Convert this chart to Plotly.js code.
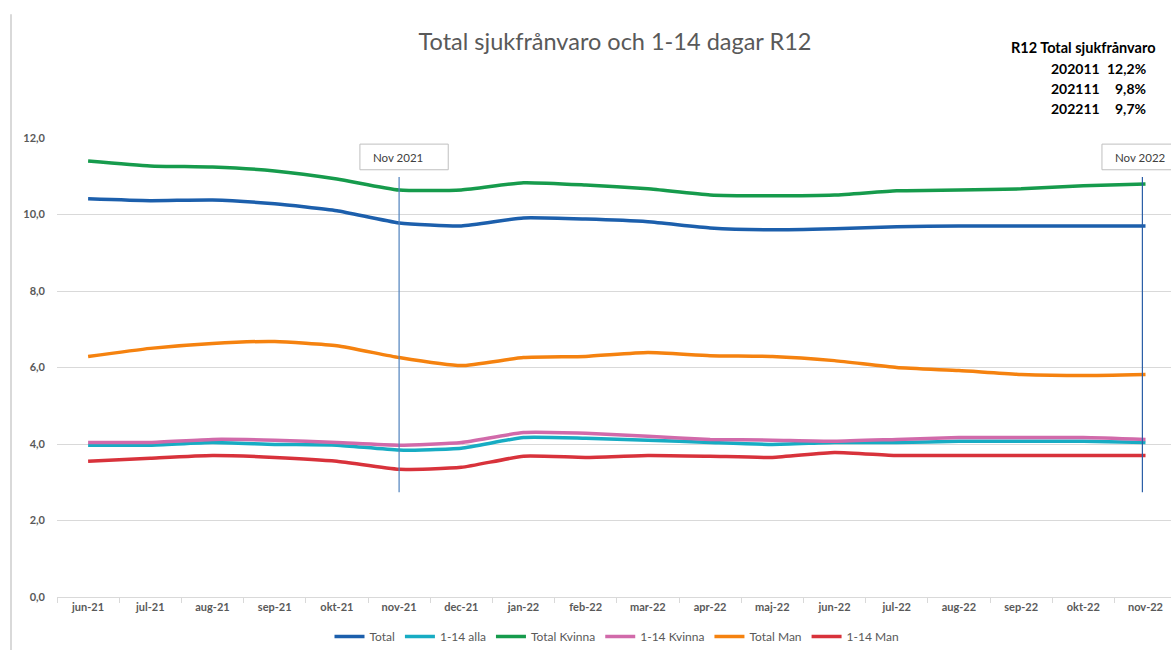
<!DOCTYPE html>
<html>
<head>
<meta charset="utf-8">
<script src="https://cdn.plot.ly/plotly-3.0.1.min.js"></script>
<style>html,body{margin:0;padding:0;background:#fff;}#chart{width:1171px;height:651px;}</style>
</head>
<body>
<div id="chart"></div>
<script>
const months = ["jun-21","jul-21","aug-21","sep-21","okt-21","nov-21","dec-21","jan-22","feb-22","mar-22","apr-22","maj-22","jun-22","jul-22","aug-22","sep-22","okt-22","nov-22"];

const seriesNames = ["Total","1-14 alla","Total Kvinna","1-14 Kvinna","Total Man","1-14 Man"];

const total       = [10.41,10.36,10.38,10.28,10.10,9.78,9.70,9.91,9.88,9.81,9.65,9.60,9.63,9.68,9.70,9.70,9.70,9.70];
const alla114     = [3.97,3.97,4.04,3.99,3.97,3.84,3.89,4.17,4.15,4.10,4.04,3.99,4.04,4.04,4.07,4.07,4.07,4.04];
const totalKvinna = [11.40,11.27,11.24,11.14,10.93,10.64,10.64,10.83,10.77,10.67,10.51,10.49,10.51,10.62,10.64,10.67,10.75,10.80];
const kvinna114   = [4.04,4.04,4.12,4.10,4.04,3.97,4.04,4.30,4.28,4.20,4.12,4.10,4.07,4.12,4.17,4.17,4.17,4.12];
const totalMan    = [6.29,6.50,6.63,6.68,6.57,6.26,6.05,6.26,6.29,6.39,6.31,6.29,6.18,6.00,5.92,5.82,5.79,5.82];
const man114      = [3.55,3.63,3.70,3.65,3.55,3.34,3.39,3.68,3.65,3.70,3.68,3.65,3.78,3.70,3.70,3.70,3.70,3.70];

const colors = ["#1c5fac","#17acc3","#169b4c","#d16aaa","#f5820f","#d8323b"];

const chartTitle = "Total sjukfrånvaro och 1-14 dagar R12";
const markerLabels = ["Nov 2021","Nov 2022"];
const summaryTitle = "R12 Total sjukfrånvaro";
const summaryPeriods = ["202011","202111","202211"];
const summaryValues = ["12,2%","9,8%","9,7%"];

const seriesData = [total, alla114, totalKvinna, kvinna114, totalMan, man114];

const font = "Lato, 'Open Sans', sans-serif";
const gray = "#595959";

const traces = seriesData.map((vals, i) => ({
  type: "scatter",
  mode: "lines",
  x: months,
  y: vals,
  name: seriesNames[i],
  line: {color: colors[i], width: 3.5, shape: "spline", smoothing: 0.5}
}));

const annotations = [];
annotations.push({xref:"paper", yref:"paper", x:(1157-57)/1114, y:(598-47)/460, xanchor:"right", yanchor:"middle",
  text:"<b>"+summaryTitle+"</b>", showarrow:false, font:{family:font, size:14.5, color:"#000"}});
summaryPeriods.forEach((p,i)=>{
  const py = 68 + i*20;
  annotations.push({xref:"paper", yref:"paper", x:(1102-57)/1114, y:(598-py)/460, xanchor:"right", yanchor:"middle",
    text:"<b>"+p+"</b>", showarrow:false, font:{family:font, size:14, color:"#000"}});
  annotations.push({xref:"paper", yref:"paper", x:(1148-57)/1114, y:(598-py)/460, xanchor:"right", yanchor:"middle",
    text:"<b>"+summaryValues[i]+"</b>", showarrow:false, font:{family:font, size:14, color:"#000"}});
});
const markerCat = [5, 17];
const labelStart = [4.55, 16.48];
markerLabels.forEach((t,i)=>{
  annotations.push({xref:"x", yref:"y", x:labelStart[i], y:11.5, xanchor:"left", yanchor:"middle",
    text:t, showarrow:false, font:{family:font, size:11.5, color:"#404040"}});
});

const shapes = [
  {type:"line", xref:"paper", yref:"paper", x0:-46/1114, x1:-46/1114, y0:(598-14)/460, y1:(598-651)/460,
   line:{color:"#d9d9d9", width:2}},
  {type:"rect", xref:"x", yref:"y", x0:4.37, x1:5.79, y0:11.17, y1:11.84, line:{color:"#bfbfbf", width:1}, fillcolor:"#fff"},
  {type:"rect", xref:"x", yref:"y", x0:16.30, x1:17.72, y0:11.17, y1:11.84, line:{color:"#bfbfbf", width:1}, fillcolor:"#fff"},
  {type:"line", xref:"x", yref:"y", x0:markerCat[0], x1:markerCat[0], y0:2.74, y1:10.98, line:{color:"#4f81bd", width:1.2}},
  {type:"line", xref:"x", yref:"y", x0:markerCat[1]-0.05, x1:markerCat[1]-0.05, y0:2.74, y1:10.98, line:{color:"#2a5ea6", width:1.2}}
];

const layout = {
  width:1171, height:651,
  margin:{l:57, r:0, t:138, b:53},
  paper_bgcolor:"#fff", plot_bgcolor:"#fff",
  separators:",.",
  showlegend:true,
  title:{text:chartTitle, x:615/1171, xanchor:"center", y:1-42/651, yanchor:"middle",
    font:{family:font, size:23.5, color:gray}},
  xaxis:{type:"category", range:[-0.5,17.41], showgrid:false, showline:true, linecolor:"#d9d9d9", linewidth:1,
    ticks:"outside", tickson:"boundaries", ticklen:5, tickcolor:"#d9d9d9",
    tickfont:{family:font, size:11, color:gray, weight:"bold"}, fixedrange:true},
  yaxis:{range:[0,12], dtick:2, tickformat:".1f", showgrid:true, gridcolor:"#d9d9d9", gridwidth:1,
    zeroline:false, showline:false, ticks:"", ticklabelstandoff:11,
    tickfont:{family:font, size:11, color:gray, weight:"bold"}, fixedrange:true},
  legend:{orientation:"h", x:(617-57)/1114, xanchor:"center", y:-40/460, yanchor:"middle",
    font:{family:font, size:12, color:gray}, itemwidth:30, tracegroupgap:0},
  annotations:annotations,
  shapes:shapes
};

Plotly.newPlot("chart", traces, layout, {displayModeBar:false, staticPlot:true});
</script>
</body>
</html>
